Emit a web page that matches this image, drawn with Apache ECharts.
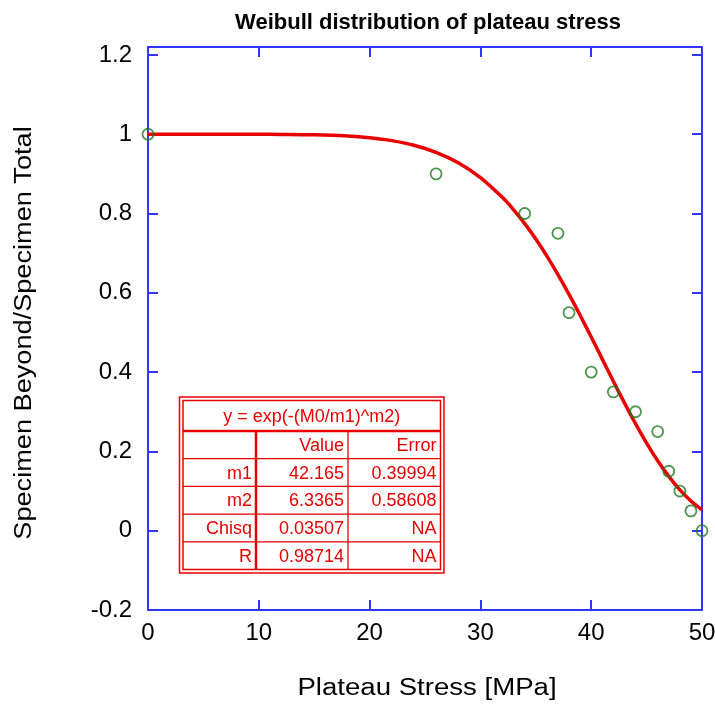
<!DOCTYPE html>
<html><head><meta charset="utf-8">
<script src="https://cdn.jsdelivr.net/npm/echarts@6/dist/echarts.min.js"></script>
<style>html,body{margin:0;padding:0;background:#fff}#c{width:715px;height:706px}</style>
</head><body><div id="c"></div>
<script>
// Measured data points
var pointX = [0, 26, 34, 37, 38, 40, 42, 44, 46, 47, 48, 49, 50];
var pointY = [1, 0.9, 0.8, 0.75, 0.55, 0.4, 0.35, 0.3, 0.25, 0.15, 0.1, 0.05, 0];
// Fitted curve
var curveX = [0, 5, 10, 12, 15, 18, 20, 22, 24, 26, 28, 30, 32, 33, 34, 35, 36, 37, 38, 39, 40, 41, 42, 43, 44, 45, 46, 47, 48, 49, 50];
var curveY = [1, 1, 0.9999, 0.9996, 0.9986, 0.9955, 0.9912, 0.9839, 0.9723, 0.9544, 0.928, 0.8907, 0.8402, 0.8093, 0.7744, 0.7356, 0.6927, 0.646, 0.5961, 0.5434, 0.4887, 0.4328, 0.377, 0.3223, 0.2699, 0.2208, 0.1763, 0.1369, 0.103, 0.075, 0.0527];
// Tick labels
var xTicks = [0, 10, 20, 30, 40, 50];
var yTicks = [-0.2, 0, 0.2, 0.4, 0.6, 0.8, 1, 1.2];
// Texts
var chartTitle = 'Weibull distribution of plateau stress';
var xTitle = 'Plateau Stress [MPa]';
var yTitle = 'Specimen Beyond/Specimen Total';
// Fit table
var tableHeader = 'y = exp(-(M0/m1)^m2)';
var tableCols = ['', 'Value', 'Error'];
var tableRows = [
  ['m1', '42.165', '0.39994'],
  ['m2', '6.3365', '0.58608'],
  ['Chisq', '0.03507', 'NA'],
  ['R', '0.98714', 'NA']
];

var blue = '#3434ff', red = '#e80000', green = '#227a22';
var font = '"Liberation Sans", Arial, sans-serif';
var chart = echarts.init(document.getElementById('c'));

function yLab(v) {
  for (var i = 0; i < yTicks.length; i++) if (Math.abs(yTicks[i] - v) < 1e-6) return String(yTicks[i]);
  return '';
}
function xLab(v) { return xTicks.indexOf(v) >= 0 ? String(v) : ''; }

var axisCommon = {
  axisLine: { show: true, onZero: false, lineStyle: { color: blue, width: 2 } },
  axisTick: { show: true, inside: true, length: 10, lineStyle: { color: blue, width: 2 } },
  splitLine: { show: false }
};

// Table graphics (layout only)
var oL = 179.5, oR = 444, oT = 397, oB = 573;
var iL = 183, iR = 440.5, iT = 400.5, iB = 569.5;
var colX = [iL, 256, 348, iR];
var headerB = 431, rowH = (iB - headerB) / 5;
var g = [];
g.push({ type: 'rect', shape: { x: oL, y: oT, width: oR - oL, height: oB - oT }, style: { fill: '#fff', stroke: red, lineWidth: 1.5 }, z: 100 });
g.push({ type: 'rect', shape: { x: iL, y: iT, width: iR - iL, height: iB - iT }, style: { fill: 'none', stroke: red, lineWidth: 1.5 }, z: 100 });
g.push({ type: 'text', x: (iL + iR) / 2, y: (iT + headerB) / 2 + 1, style: { text: tableHeader, fill: red, font: '18px ' + font, align: 'center', verticalAlign: 'middle' }, z: 101 });
g.push({ type: 'line', shape: { x1: iL, y1: headerB, x2: iR, y2: headerB }, style: { stroke: red, lineWidth: 2.5 }, z: 101 });
for (var r = 0; r < 5; r++) {
  var yTop = headerB + r * rowH;
  if (r > 0) g.push({ type: 'line', shape: { x1: iL, y1: yTop, x2: iR, y2: yTop }, style: { stroke: red, lineWidth: 1.3 }, z: 101 });
  var row = r === 0 ? tableCols : tableRows[r - 1];
  for (var c = 0; c < 3; c++) {
    g.push({ type: 'text', x: colX[c + 1] - 4, y: yTop + rowH / 2 + 1, style: { text: row[c], fill: red, font: '18px ' + font, align: 'right', verticalAlign: 'middle' }, z: 101 });
  }
}
g.push({ type: 'line', shape: { x1: colX[1], y1: headerB, x2: colX[1], y2: iB }, style: { stroke: red, lineWidth: 2.5 }, z: 101 });
g.push({ type: 'line', shape: { x1: colX[2], y1: headerB, x2: colX[2], y2: iB }, style: { stroke: red, lineWidth: 1.3 }, z: 101 });
// Axis titles
g.push({ type: 'text', x: 427, y: 689, scaleX: 1.2, style: { text: xTitle, fill: '#000', font: '23px ' + font, align: 'center', verticalAlign: 'middle' } });
g.push({ type: 'text', x: 25, y: 333, rotation: Math.PI / 2, scaleX: 1.18, style: { text: yTitle, fill: '#000', font: '23px ' + font, align: 'center', verticalAlign: 'middle' } });

chart.setOption({
  animation: false,
  backgroundColor: '#fff',
  title: { text: chartTitle, left: 423, top: 7, textAlign: 'center',
    textStyle: { fontFamily: font, fontSize: 22, fontWeight: 'bold', color: '#000' } },
  grid: { left: 148, right: 13, top: 47, bottom: 96, show: false, containLabel: false, outerBoundsMode: 'none' },
  xAxis: [
    Object.assign({ type: 'value', position: 'bottom', min: 0, max: 50, interval: 10,
      axisLabel: { fontFamily: font, fontSize: 24, color: '#000', margin: 11, formatter: xLab, showMaxLabel: true } }, axisCommon),
    Object.assign({ type: 'value', position: 'top', min: 0, max: 50, interval: 10,
      axisLabel: { show: false } }, axisCommon)
  ],
  yAxis: [
    Object.assign({ type: 'value', position: 'left', min: -0.2, max: 1.22, interval: 0.2,
      axisLabel: { fontFamily: font, fontSize: 24, color: '#000', margin: 16, formatter: yLab, showMaxLabel: false } }, axisCommon),
    Object.assign({ type: 'value', position: 'right', min: -0.2, max: 1.22, interval: 0.2,
      axisLabel: { show: false } }, axisCommon)
  ],
  series: [
    { type: 'line', name: 'fit', xAxisIndex: 0, yAxisIndex: 0, smooth: 0.3, showSymbol: false,
      data: curveX.map(function (x, i) { return [x, curveY[i]]; }),
      lineStyle: { color: red, width: 3.5 }, z: 3 },
    { type: 'scatter', name: 'data', xAxisIndex: 0, yAxisIndex: 0, symbol: 'circle', symbolSize: 11,
      data: pointX.map(function (x, i) { return [x, pointY[i]]; }),
      itemStyle: { color: 'rgba(0,0,0,0)', borderColor: green, borderWidth: 1.8 }, z: 4 }
  ],
  graphic: g
});
</script>
</body></html>
